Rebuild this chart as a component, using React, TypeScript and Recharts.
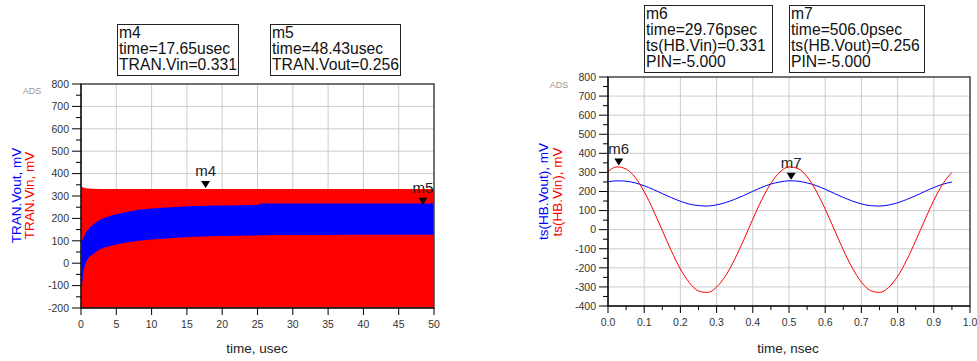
import {
  ComposedChart,
  LineChart,
  Line,
  Area,
  XAxis,
  YAxis,
  CartesianGrid,
  ReferenceArea,
  ReferenceDot,
} from "recharts";

// TRAN (left) envelopes, time in usec, values in mV
const tranTime = [0, 0.1, 0.3, 0.5, 1, 1.7, 2.6, 4, 5, 7, 10, 13, 16, 20, 25, 25.5, 30, 35, 40, 45, 50];
const tranVinTop = [350, 342, 338, 336, 334, 332, 331, 331, 331, 331, 331, 331, 331, 331, 331, 331, 331, 331, 331, 331, 331];
const tranVinBottom = [-200, -200, -200, -200, -200, -200, -200, -200, -200, -200, -200, -200, -200, -200, -200, -200, -200, -200, -200, -200, -200];
const tranVoutHigh = [-20, 95, 110, 125, 150, 172, 192, 210, 218, 232, 244, 250, 255, 258, 260, 266, 266, 266, 266, 266, 266];
const tranVoutLow = [-113, -113, -46, -16, 21, 40, 61, 76, 84, 95, 106, 113, 118, 121, 124, 125, 126, 126, 127, 127, 127];

const tranXTicks = [0, 5, 10, 15, 20, 25, 30, 35, 40, 45, 50];
const tranYTicks = [-200, -150, -100, -50, 0, 50, 100, 150, 200, 250, 300, 350, 400, 450, 500, 550, 600, 650, 700, 750, 800];

// HB (right) waveforms, time in nsec, values in mV
const hbTime = [0, 0.025, 0.05, 0.075, 0.1, 0.125, 0.15, 0.175, 0.2, 0.225, 0.25, 0.275, 0.3, 0.325, 0.35, 0.375, 0.4, 0.425, 0.45, 0.475, 0.5, 0.525, 0.55, 0.575, 0.6, 0.625, 0.65, 0.675, 0.7, 0.725, 0.75, 0.775, 0.8, 0.825, 0.85, 0.875, 0.9, 0.925, 0.95];
const hbVin = [305, 329, 318, 274, 199, 103, -4, -111, -206, -278, -321, -329, -301, -241, -155, -53, 55, 158, 243, 302, 329, 320, 277, 203, 108, 1, -106, -201, -275, -319, -329, -303, -245, -160, -58, 50, 153, 240, 300];
const hbVout = [251, 256, 254, 245, 230, 211, 189, 168, 149, 134, 126, 124, 130, 142, 159, 179, 201, 222, 239, 250, 256, 254, 245, 231, 212, 190, 169, 150, 135, 126, 124, 129, 141, 158, 178, 200, 221, 238, 250];

const hbXTicks = [0, 0.05, 0.1, 0.15, 0.2, 0.25, 0.3, 0.35, 0.4, 0.45, 0.5, 0.55, 0.6, 0.65, 0.7, 0.75, 0.8, 0.85, 0.9, 0.95, 1];
const hbYTicks = [-400, -350, -300, -250, -200, -150, -100, -50, 0, 50, 100, 150, 200, 250, 300, 350, 400, 450, 500, 550, 600, 650, 700, 750, 800];

const FONT = '"Liberation Sans", Arial, sans-serif';
const RED = "#ff0000";
const BLUE = "#0000ff";
const GRID = "#cccccc";

const tranData = tranTime.map((t, i) => ({
  t,
  vin: [tranVinBottom[i], tranVinTop[i]],
  vout: [tranVoutLow[i], tranVoutHigh[i]],
}));

const hbData = hbTime.map((t, i) => ({ t, vin: hbVin[i], vout: hbVout[i] }));

const isMajorY = (v: number) => v % 100 === 0;

function YTick(props: any) {
  const { x, y, payload } = props;
  const v = payload.value;
  const major = isMajorY(v);
  const ax = x + 12;
  return (
    <g>
      <line x1={ax - (major ? 9 : 5)} x2={ax} y1={y} y2={y} stroke="#000" />
      {major && (
        <text x={x} y={y} dy="0.36em" textAnchor="end" fontSize={10.5} fill="#333" fontFamily={FONT}>
          {v}
        </text>
      )}
    </g>
  );
}

function makeXTick(isMajor: (v: number) => boolean, fmt: (v: number) => string) {
  return function XTick(props: any) {
    const { x, y, payload } = props;
    const v = payload.value;
    const major = isMajor(v);
    const ay = y - 12;
    return (
      <g>
        <line x1={x} x2={x} y1={ay} y2={ay + (major ? 7 : 4)} stroke="#000" />
        {major && (
          <text x={x} y={y} dy="0.75em" textAnchor="middle" fontSize={10.5} fill="#333" fontFamily={FONT}>
            {fmt(v)}
          </text>
        )}
      </g>
    );
  };
}

const TranXTick = makeXTick(() => true, (v) => String(v));
const HbXTick = makeXTick(
  (v) => Math.round(v * 100) % 10 === 0,
  (v) => v.toFixed(1)
);

function Marker(props: any) {
  const { cx, cy, name } = props;
  if (cx == null || cy == null) return <g />;
  return (
    <g>
      <path d={`M${cx - 4.5},${cy - 8} L${cx + 4.5},${cy - 8} L${cx},${cy - 1} Z`} fill="#000" />
      <text x={cx} y={cy - 13} textAnchor="middle" fontSize={15} fill="#222" fontFamily={FONT}>
        {name}
      </text>
    </g>
  );
}

function MarkerBox({ left, top, width, height, lines }: { left: number; top: number; width: number; height: number; lines: string[] }) {
  return (
    <div
      style={{
        position: "absolute",
        left,
        top,
        width,
        height,
        boxSizing: "border-box",
        border: "1px solid #222",
        background: "#fff",
        fontFamily: FONT,
        fontSize: 15.7,
        lineHeight: "16px",
        color: "#111",
        paddingLeft: 1,
        whiteSpace: "nowrap",
      }}
    >
      {lines.map((l) => (
        <div key={l}>{l}</div>
      ))}
    </div>
  );
}

export default function App() {
  return (
    <div style={{ position: "absolute", left: 0, top: 0, width: 977, height: 361, background: "#fff", overflow: "hidden" }}>
      {/* left: transient */}
      <div style={{ position: "absolute", left: 0, top: 0 }}>
        <ComposedChart width={490} height={361} data={tranData} margin={{ top: 84, right: 56, bottom: 0, left: 0 }}>
          <CartesianGrid stroke={GRID} horizontalValues={[-100, 0, 100, 200, 300, 400, 500, 600, 700]} verticalValues={[5, 10, 15, 20, 25, 30, 35, 40, 45]} />
          <XAxis
            dataKey="t"
            type="number"
            domain={[0, 50]}
            ticks={tranXTicks}
            interval={0}
            height={53}
            tickSize={7}
            tickMargin={5}
            tickLine={false}
            tick={<TranXTick />}
            stroke="#000"
          />
          <YAxis
            type="number"
            domain={[-200, 800]}
            ticks={tranYTicks}
            interval={0}
            width={81}
            tickSize={9}
            tickMargin={3}
            tickLine={false}
            tick={<YTick />}
            stroke="#000"
          />
          <Area dataKey="vin" type="linear" fill={RED} fillOpacity={1} stroke="none" isAnimationActive={false} />
          <Area dataKey="vout" type="monotone" fill={BLUE} fillOpacity={1} stroke="none" isAnimationActive={false} />
          <ReferenceArea x1={0} x2={50} y1={-200} y2={800} fill="none" stroke="#444" strokeWidth={1.5} />
          <ReferenceDot x={17.65} y={331} shape={(p: any) => <Marker {...p} name="m4" />} />
          <ReferenceDot x={48.43} y={256} shape={(p: any) => <Marker {...p} name="m5" />} />
        </ComposedChart>
      </div>

      {/* right: harmonic balance */}
      <div style={{ position: "absolute", left: 490, top: 0 }}>
        <LineChart width={487} height={361} data={hbData} margin={{ top: 77, right: 7, bottom: 0, left: 0 }}>
          <CartesianGrid
            stroke={GRID}
            horizontalValues={[-300, -200, -100, 0, 100, 200, 300, 400, 500, 600, 700]}
            verticalValues={[0.1, 0.2, 0.3, 0.4, 0.5, 0.6, 0.7, 0.8, 0.9]}
          />
          <XAxis
            dataKey="t"
            type="number"
            domain={[0, 1]}
            ticks={hbXTicks}
            interval={0}
            height={55}
            tickSize={7}
            tickMargin={5}
            tickLine={false}
            tick={<HbXTick />}
            stroke="#000"
          />
          <YAxis
            type="number"
            domain={[-400, 800]}
            ticks={hbYTicks}
            interval={0}
            width={118}
            tickSize={9}
            tickMargin={3}
            tickLine={false}
            tick={<YTick />}
            stroke="#000"
          />
          <Line dataKey="vout" type="monotone" stroke={BLUE} strokeWidth={1} dot={false} isAnimationActive={false} />
          <Line dataKey="vin" type="monotone" stroke={RED} strokeWidth={1} dot={false} isAnimationActive={false} />
          <ReferenceArea x1={0} x2={1} y1={-400} y2={800} fill="none" stroke="#444" strokeWidth={1.5} />
          <ReferenceDot x={0.02976} y={331} shape={(p: any) => <Marker {...p} name="m6" />} />
          <ReferenceDot x={0.506} y={256} shape={(p: any) => <Marker {...p} name="m7" />} />
        </LineChart>
      </div>

      {/* axis titles and watermark */}
      <svg width={977} height={361} style={{ position: "absolute", left: 0, top: 0, pointerEvents: "none" }} fontFamily={FONT}>
        <text x={32} y={90.7} dy="0.35em" textAnchor="middle" fontSize={9} fill="#999">ADS</text>
        <text x={559} y={85} dy="0.35em" textAnchor="middle" fontSize={9} fill="#999">ADS</text>

        <text transform="translate(16,195.5) rotate(-90)" textAnchor="middle" dy="0.35em" fontSize={13.5} fill={BLUE}>TRAN.Vout, mV</text>
        <text transform="translate(29,195.5) rotate(-90)" textAnchor="middle" dy="0.35em" fontSize={13.5} fill={RED}>TRAN.Vin, mV</text>
        <text transform="translate(543,191.5) rotate(-90)" textAnchor="middle" dy="0.35em" fontSize={13.5} fill={BLUE}>ts(HB.Vout), mV</text>
        <text transform="translate(557,192) rotate(-90)" textAnchor="middle" dy="0.35em" fontSize={13.5} fill={RED}>ts(HB.Vin), mV</text>

        <text x={257} y={348} dy="0.35em" textAnchor="middle" fontSize={13.5} fill="#222">time, usec</text>
        <text x={788} y={348} dy="0.35em" textAnchor="middle" fontSize={13.5} fill="#222">time, nsec</text>
      </svg>

      <MarkerBox left={117} top={24} width={122} height={52} lines={["m4", "time=17.65usec", "TRAN.Vin=0.331"]} />
      <MarkerBox left={270} top={24} width={131} height={52} lines={["m5", "time=48.43usec", "TRAN.Vout=0.256"]} />
      <MarkerBox left={644} top={5} width={129} height={68} lines={["m6", "time=29.76psec", "ts(HB.Vin)=0.331", "PIN=-5.000"]} />
      <MarkerBox left={789} top={5} width={136} height={68} lines={["m7", "time=506.0psec", "ts(HB.Vout)=0.256", "PIN=-5.000"]} />
    </div>
  );
}
